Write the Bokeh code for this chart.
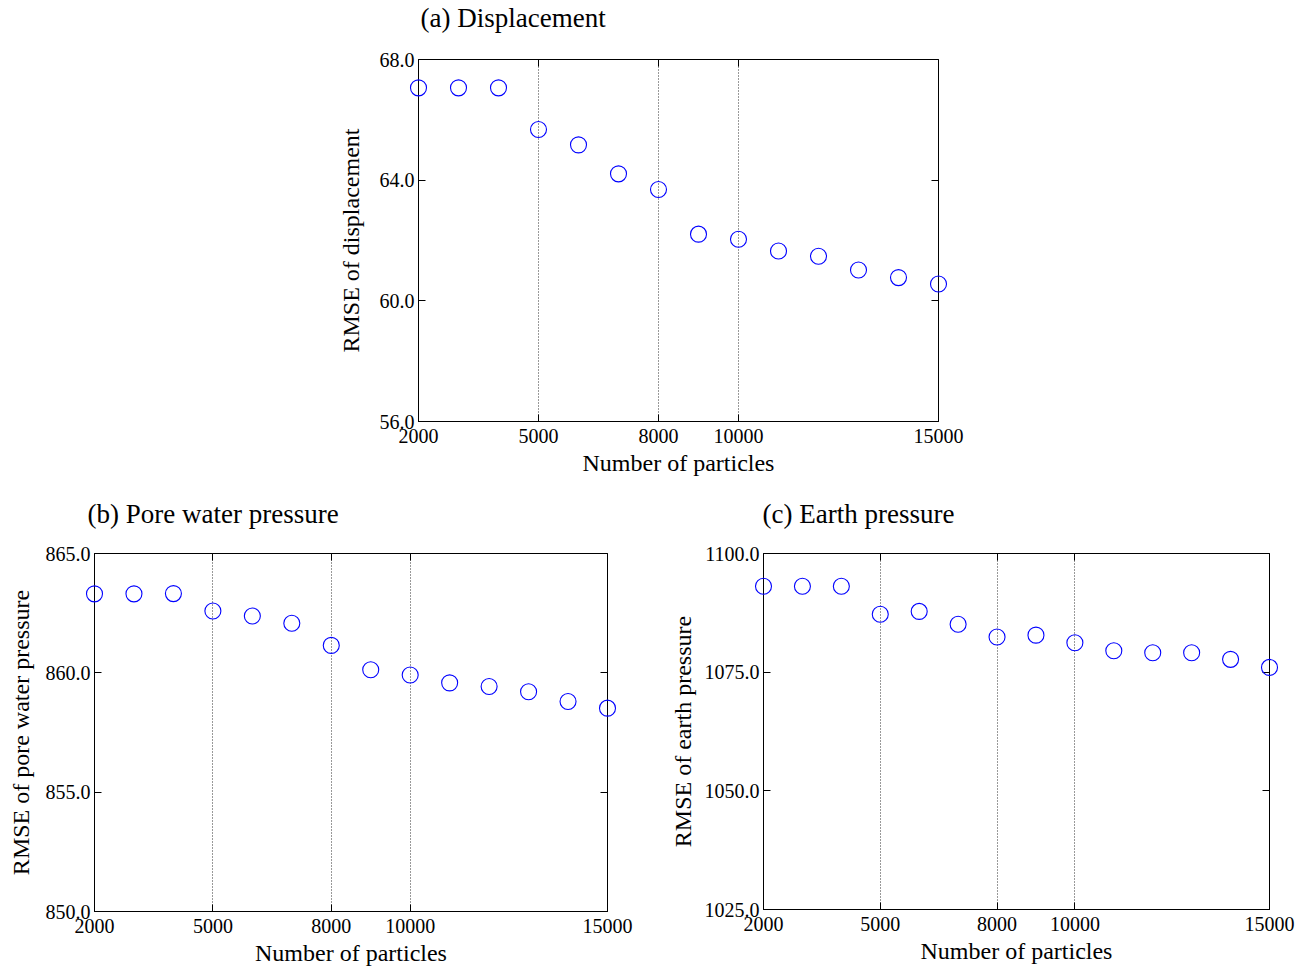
from bokeh.plotting import figure
from bokeh.models import FixedTicker, PrintfTickFormatter, LinearAxis, Range1d, Spacer, CustomJSTickFormatter
from bokeh.layouts import row, column
from bokeh.embed import file_html
from bokeh.resources import INLINE

# ---------------- data ----------------
particles = [2000, 3000, 4000, 5000, 6000, 7000, 8000, 9000, 10000, 11000, 12000, 13000, 14000, 15000]
rmse_displacement = [67.06, 67.06, 67.06, 65.68, 65.17, 64.21, 63.69, 62.21, 62.04, 61.65, 61.48, 61.02, 60.77, 60.56]
rmse_pore_water = [863.31, 863.31, 863.32, 862.59, 862.38, 862.08, 861.15, 860.13, 859.91, 859.58, 859.43, 859.21, 858.80, 858.52]
rmse_earth = [1093.1, 1093.1, 1093.1, 1087.2, 1087.8, 1085.1, 1082.4, 1082.8, 1081.2, 1079.5, 1079.1, 1079.1, 1077.7, 1076.0]

x_ticks = [2000, 5000, 8000, 10000, 15000]
grid_x = [5000, 8000, 10000]
y_ticks_disp = [56, 60, 64, 68]
y_ticks_pore = [850, 855, 860, 865]
y_ticks_earth = [1025, 1050, 1075, 1100]

titles = ["(a) Displacement", "(b) Pore water pressure", "(c) Earth pressure"]
y_labels = ["RMSE of displacement", "RMSE of pore water pressure", "RMSE of earth pressure"]
x_label = "Number of particles"

FONT = "Liberation Serif"


def make(title, ylabel, yvals, yticks, fw, fh, bl, br, bt, bb, t_off, t_gap, al_stand):
    p = figure(frame_width=fw, frame_height=fh,
               x_range=Range1d(particles[0], particles[-1]),
               y_range=Range1d(yticks[0], yticks[-1]),
               output_backend="svg", toolbar_location=None,
               min_border_left=bl, min_border_right=br,
               min_border_top=bt, min_border_bottom=bb,
               background_fill_color="white", border_fill_color="white")
    p.outline_line_color = "black"
    p.outline_line_width = 1
    p.outline_line_alpha = 1

    xa = p.below[0]
    ya = p.left[0]

    # top axis: inward ticks only; its (blank) label standoff separates the title from the frame
    ta = LinearAxis(ticker=FixedTicker(ticks=x_ticks),
                    formatter=CustomJSTickFormatter(code="return ''"),
                    major_tick_in=7, major_tick_out=0,
                    major_tick_line_color="black",
                    minor_tick_line_color=None, axis_line_color=None,
                    major_label_standoff=0,
                    axis_label=" ", axis_label_text_font_size="1px",
                    axis_label_standoff=t_gap)
    p.add_layout(ta, "above")

    p.title.text = title
    p.title.text_font = FONT
    p.title.text_font_size = "27px"
    p.title.text_font_style = "normal"
    p.title.text_color = "black"
    p.title.align = "left"
    p.title.offset = t_off
    p.title.standoff = 0

    xa.ticker = FixedTicker(ticks=x_ticks)
    xa.axis_label = x_label
    ya.ticker = FixedTicker(ticks=yticks)
    ya.formatter = PrintfTickFormatter(format="%.1f")
    ya.axis_label = ylabel
    for ax in (xa, ya):
        ax.axis_line_color = "black"
        ax.major_tick_in = 7
        ax.major_tick_out = 0
        ax.major_tick_line_color = "black"
        ax.minor_tick_line_color = None
        ax.major_label_text_font = FONT
        ax.major_label_text_font_size = "20px"
        ax.major_label_text_color = "black"
        ax.axis_label_text_font = FONT
        ax.axis_label_text_font_size = "24px"
        ax.axis_label_text_font_style = "normal"
        ax.axis_label_text_color = "black"
    xa.major_label_standoff = 7
    xa.axis_label_standoff = 4
    ya.major_label_standoff = 4
    ya.axis_label_standoff = al_stand

    ra = LinearAxis(ticker=FixedTicker(ticks=yticks),
                    formatter=CustomJSTickFormatter(code="return ''"),
                    major_tick_in=7, major_tick_out=0,
                    major_tick_line_color="black",
                    minor_tick_line_color=None, axis_line_color=None,
                    major_label_standoff=0)
    p.add_layout(ra, "right")

    p.xgrid.ticker = FixedTicker(ticks=grid_x)
    p.xgrid.grid_line_color = "#333333"
    p.xgrid.grid_line_dash = "1 2"
    p.xgrid.grid_line_width = 1
    p.ygrid.visible = False

    p.scatter(particles, yvals, marker="circle", size=16,
              fill_color=None, line_color="#0000FF", line_width=1.1,
              level="overlay")
    return p


pa = make(titles[0], y_labels[0], rmse_displacement, y_ticks_disp,
          520, 362, 90, 40, 59, 56, 2, 23, 13)
pb = make(titles[1], y_labels[1], rmse_pore_water, y_ticks_pore,
          513, 358, 94, 56, 75, 52, -7, 21, 9)
pc = make(titles[2], y_labels[2], rmse_earth, y_ticks_earth,
          506, 356, 100, 28, 75, 54, -1, 21, 6)

layout = column(row(Spacer(width=328, height=477), pa), row(pb, pc))

open("out.html", "w").write(file_html(layout, INLINE))
